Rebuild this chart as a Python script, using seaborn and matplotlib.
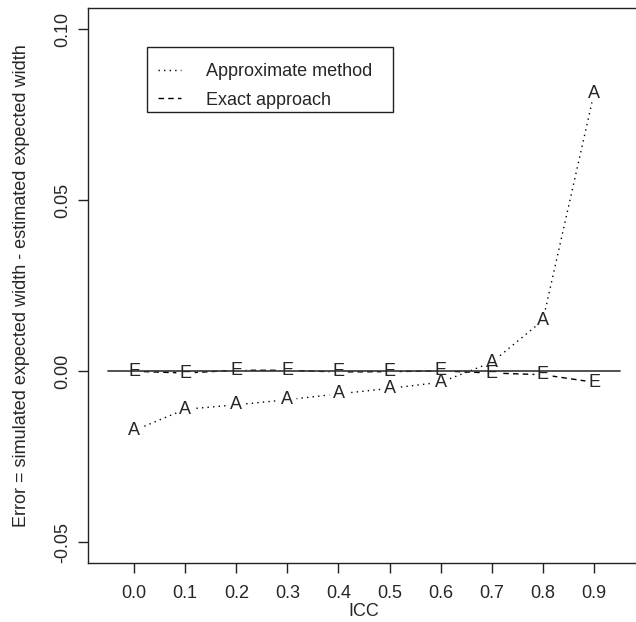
import matplotlib
matplotlib.use('Agg')
import matplotlib.pyplot as plt
from matplotlib.patches import Rectangle
import seaborn as sns
import pandas as pd

# values
icc = [0.0, 0.1, 0.2, 0.3, 0.4, 0.5, 0.6, 0.7, 0.8, 0.9]
approx_err = [-0.0173, -0.0111, -0.0098, -0.0083, -0.0066, -0.0050, -0.0032, 0.0026, 0.0149, 0.0813]
exact_err = [0.0000, -0.0005, 0.0003, 0.0003, -0.0002, -0.0001, 0.0001, -0.0005, -0.0010, -0.0032]
ref_x = [-0.05, 0.95]
ref_y = [0.0, 0.0]
xticks = [0.0, 0.1, 0.2, 0.3, 0.4, 0.5, 0.6, 0.7, 0.8, 0.9]
yticks = [-0.05, 0.0, 0.05, 0.10]
ytick_labels = ['-0.05', '0.00', '0.05', '0.10']

df = pd.DataFrame({'ICC': icc, 'approx': approx_err, 'exact': exact_err})

sns.set_style('ticks')
plt.rcParams['font.family'] = ['Liberation Sans', 'DejaVu Sans']
fs = 13

fig = plt.figure(figsize=(6.36, 6.22), dpi=100)
# right edge of the box falls just outside the picture, like the reference
ax = fig.add_axes([0.1384, 0.0949, 0.868, 0.8915])

sns.lineplot(data=df, x='ICC', y='approx', ax=ax, color='black', lw=1,
             linestyle=(0, (1, 3)), label='Approximate method', zorder=2)
sns.lineplot(data=df, x='ICC', y='exact', ax=ax, color='black', lw=1,
             linestyle=(0, (4, 3)), label='Exact approach', zorder=2)

# white blobs leave gaps round the letters (R type="b" look)
ax.scatter(df['ICC'], df['approx'], s=150, color='white', zorder=3)
ax.scatter(df['ICC'], df['exact'], s=150, color='white', zorder=3)

# zero line
ax.plot(ref_x, ref_y, color='#333333', lw=1.2, zorder=4)

for x, y in zip(df['ICC'], df['approx']):
    ax.text(x, y, 'A', ha='center', va='center', fontsize=fs, zorder=5)
for x, y in zip(df['ICC'], df['exact']):
    ax.text(x, y, 'E', ha='center', va='center', fontsize=fs, zorder=5)

ax.set_xlim(-0.09, 0.99)
ax.set_ylim(-0.056, 0.106)
ax.set_xticks(xticks)
ax.set_xticklabels([f'{t:.1f}' for t in xticks], fontsize=fs)
ax.set_yticks(yticks)
ax.set_yticklabels(ytick_labels, fontsize=fs, rotation=90, va='center')
ax.tick_params(length=7.2, width=1, color='#222222')
ax.tick_params(axis='y', pad=5)
ax.tick_params(axis='x', pad=8.5)
ax.set_xlabel('ICC', fontsize=fs, labelpad=1)
ax.set_ylabel('Error = simulated expected width - estimated expected width', fontsize=fs, labelpad=17)
for sp in ax.spines.values():
    sp.set_color('#222222')
    sp.set_linewidth(1)
ax.spines['top'].set_visible(True)
ax.spines['right'].set_visible(False)

# legend entries without frame, box drawn separately to match its size
leg = ax.legend(loc='upper left', bbox_to_anchor=(0.105, 0.9225), fontsize=fs,
                frameon=False, handlelength=1.3, handletextpad=1.4,
                borderpad=0.65, labelspacing=0.63, borderaxespad=0)
ax.add_patch(Rectangle((0.1069, 0.8133), 0.4456, 0.1173, transform=ax.transAxes,
                       fill=False, edgecolor='#222222', lw=1, zorder=6))

fig.savefig('out.png', dpi=100)
